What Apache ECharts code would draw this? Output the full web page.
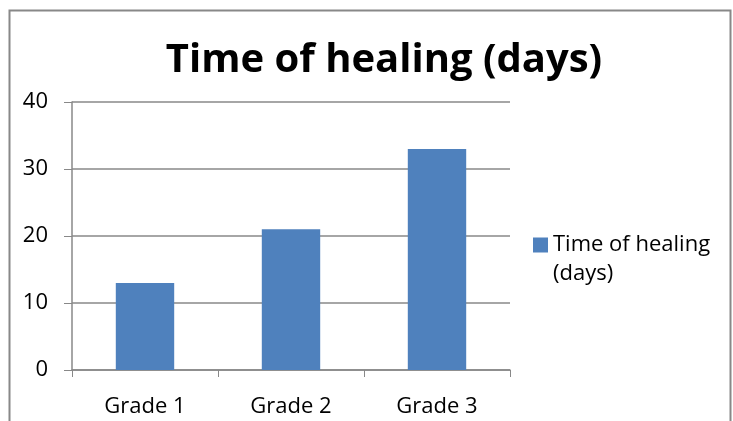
<!DOCTYPE html>
<html><head><meta charset="utf-8">
<script src="https://cdn.jsdelivr.net/npm/echarts@6/dist/echarts.min.js"></script>
<style>html,body{margin:0;padding:0;background:#fff}#c{width:733px;height:421px}</style>
</head><body><div id="c"></div>
<script>
const categories = ["Grade 1", "Grade 2", "Grade 3"];
const healingDays = [13, 21, 33];
const seriesName = "Time of healing (days)";
const chart = echarts.init(document.getElementById('c'), null, {renderer: 'canvas'});
const font = '"Open Sans", "Noto Sans", sans-serif';
chart.setOption({
  animation: false,
  backgroundColor: '#fff',
  title: {
    text: 'Time of healing (days)', left: 379, top: 36, textAlign: 'center',
    textStyle: {fontFamily: font, fontSize: 40, fontWeight: 'bold', color: '#000'}
  },
  graphic: [
    {type: 'rect', shape: {x: 9.5, y: 10.5, width: 721, height: 430}, style: {fill: null, stroke: '#888', lineWidth: 2}, silent: true},
    {type: 'text', left: 553, top: 263, style: {text: '(days)', font: '22px "Open Sans", "Noto Sans", sans-serif', fill: '#000'}, silent: true}
  ],
  legend: {
    left: 528, top: 229, itemWidth: 15, itemHeight: 15,
    icon: 'rect',
    formatter: () => 'Time of healing',
    textStyle: {fontFamily: font, fontSize: 22, color: '#000'}
  },
  grid: {left: 72, right: 223, top: 102, bottom: 51},
  xAxis: {
    type: 'category', data: categories,
    axisLine: {lineStyle: {color: '#888', width: 1.5}},
    axisTick: {show: true, length: 7, lineStyle: {color: '#888'}},
    axisLabel: {fontFamily: font, fontSize: 22, color: '#000', margin: 26}
  },
  yAxis: {
    type: 'value', min: 0, max: 40, interval: 10,
    axisLine: {show: true, lineStyle: {color: '#888', width: 1.5}},
    axisTick: {show: true, inside: false, length: 8, lineStyle: {color: '#888'}},
    splitLine: {lineStyle: {color: '#888', width: 1.5}},
    axisLabel: {fontFamily: font, fontSize: 22, color: '#000', margin: 24}
  },
  series: [{
    name: seriesName, type: 'bar', data: healingDays, barWidth: '40%',
    itemStyle: {color: '#4F81BD'}
  }]
});
</script></body></html>
